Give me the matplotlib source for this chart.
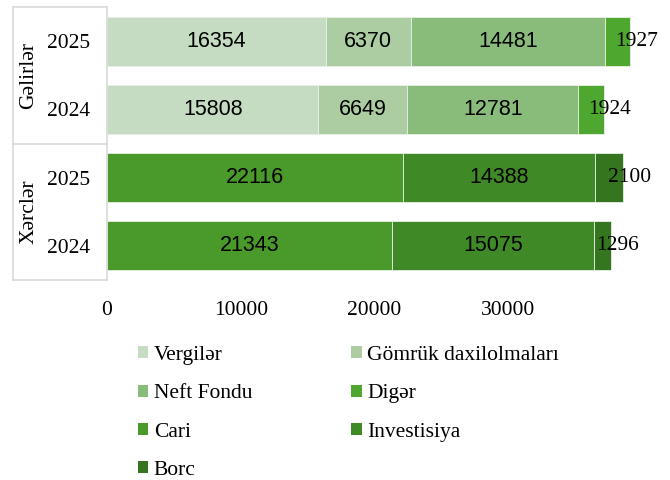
import matplotlib
matplotlib.use("Agg")
import matplotlib.pyplot as plt
import matplotlib.transforms as mtransforms
from matplotlib.patches import Patch
from matplotlib.lines import Line2D

# ---- data ----
years = ["2025", "2024"]
groups = ["Gəlirlər", "Xərclər"]
income_series = ["Vergilər", "Gömrük daxilolmaları", "Neft Fondu", "Digər"]
vergiler = [16354, 15808]
gomruk = [6370, 6649]
neft_fondu = [14481, 12781]
diger = [1927, 1924]
expense_series = ["Cari", "Investisiya", "Borc"]
cari = [22116, 21343]
investisiya = [14388, 15075]
borc = [2100, 1296]
xticks = [0, 10000, 20000, 30000]

colors = {
    "Vergilər": "#c5dcc2",
    "Gömrük daxilolmaları": "#abcda1",
    "Neft Fondu": "#89bc7a",
    "Digər": "#4ea72e",
    "Cari": "#4a9a2b",
    "Investisiya": "#3f8a26",
    "Borc": "#367520",
}

SERIF = "Liberation Serif"
SANS = "Liberation Sans"
FS = 15.5

W, H = 670, 480
fig = plt.figure(figsize=(W / 100, H / 100), dpi=100)
ax_left, ax_right, ax_top, ax_bot = 107, 642, 7, 280
ax = fig.add_axes([ax_left / W, 1 - ax_bot / H, (ax_right - ax_left) / W, (ax_bot - ax_top) / H])

ypos_income = [0, 1]
ypos_expense = [2, 3]
bh = 0.72

def stack(ypos, names, values_list):
    left = [0] * len(ypos)
    for i, (name, vals) in enumerate(zip(names, values_list)):
        ax.barh(ypos, vals, left=left, height=bh, color=colors[name],
                edgecolor="#e8f0e6", linewidth=0.6, label=name)
        last = (i == len(names) - 1)
        for y, l, v in zip(ypos, left, vals):
            if last:
                tr = mtransforms.offset_copy(ax.transData, fig=fig, x=6, y=0, units="dots")
                ax.text(l + v, y, str(v), transform=tr, ha="center", va="center",
                        fontsize=FS, family=SERIF, color="black")
            else:
                ax.text(l + v / 2, y, str(v), ha="center", va="center",
                        fontsize=FS, family=SANS, color="black")
        left = [a + b for a, b in zip(left, vals)]

stack(ypos_income, income_series, [vergiler, gomruk, neft_fondu, diger])
stack(ypos_expense, expense_series, [cari, investisiya, borc])

ax.set_xlim(0, 40000)
ax.set_ylim(3.5, -0.5)
ax.set_xticks(xticks)
ax.set_xticklabels([str(t) for t in xticks], family=SERIF, fontsize=FS)
ax.set_yticks(ypos_income + ypos_expense)
ax.set_yticklabels(years + years, family=SERIF, fontsize=FS)
ax.tick_params(axis="both", length=0)
ax.tick_params(axis="y", pad=12)
ax.tick_params(axis="x", pad=15)
for s in ["top", "right", "bottom"]:
    ax.spines[s].set_visible(False)
ax.spines["left"].set_color("#d9d9d9")
ax.spines["left"].set_linewidth(1.2)

# category box lines (figure pixel coords)
def fx(px):
    return px / W
def fy(py):
    return 1 - py / H
lc = "#d9d9d9"
fig.add_artist(Line2D([fx(13), fx(13)], [fy(7), fy(280)], color=lc, lw=1.2))
for yy in [7, 143.5, 280]:
    fig.add_artist(Line2D([fx(13), fx(107)], [fy(yy), fy(yy)], color=lc, lw=1.2))

# group labels
trans = mtransforms.blended_transform_factory(fig.transFigure, ax.transData)
ax.text(fx(29), 0.5, groups[0], transform=trans, rotation=90, ha="center", va="center",
        family=SERIF, fontsize=FS)
ax.text(fx(29), 2.5, groups[1], transform=trans, rotation=90, ha="center", va="center",
        family=SERIF, fontsize=FS)

# legend (column-major order to emulate row-major 2-col layout)
order = ["Vergilər", "Neft Fondu", "Cari", "Borc", "Gömrük daxilolmaları", "Digər", "Investisiya"]
handles = [Patch(facecolor=colors[n], edgecolor="none", label=n) for n in order]
fig.legend(handles=handles, loc="upper left", bbox_to_anchor=(fx(138), fy(346)),
           ncol=2, frameon=False, prop={"family": SERIF, "size": FS},
           handlelength=0.48, handleheight=0.48, handletextpad=0.25,
           columnspacing=4.6, labelspacing=0.9, borderaxespad=0, borderpad=0)

fig.savefig("out.png", dpi=100)
